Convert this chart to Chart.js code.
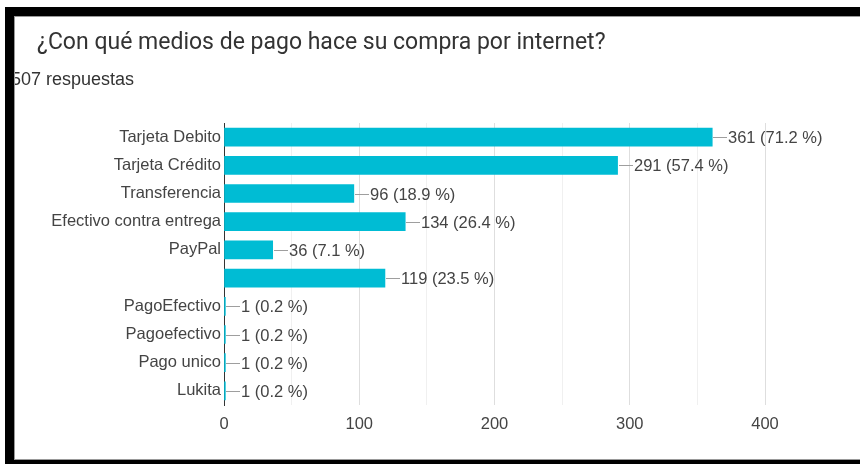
<!DOCTYPE html>
<html>
<head>
<meta charset="utf-8">
<script src="https://cdn.jsdelivr.net/npm/chart.js@4/dist/chart.umd.min.js"></script>
<style>
  html, body { margin: 0; padding: 0; background: #fff; }
  #wrap { position: relative; width: 860px; height: 464px; overflow: hidden; }
  canvas { position: absolute; left: 0; top: 0; }
  .band { position: absolute; background: #000; }
  #title { position: absolute; left: 37px; top: 28px; font: 23px Roboto, sans-serif; color: #333; white-space: nowrap; }
  #sub { position: absolute; left: 11px; top: 69px; font: 18px "Liberation Sans", Arial, sans-serif; color: #333; white-space: nowrap; }
</style>
</head>
<body>
<div id="wrap">
  <canvas id="pagos" width="860" height="464"></canvas>
  <div id="title">¿Con qué medios de pago hace su compra por internet?</div>
  <div id="sub">507 respuestas</div>
  <div class="band" style="left:5px;top:7px;width:855px;height:9px"></div>
  <div class="band" style="left:5px;top:16px;width:855px;height:1px;background:#999"></div>
  <div class="band" style="left:5px;top:7px;width:9px;height:457px"></div>
  <div class="band" style="left:14px;top:17px;width:1px;height:443px;background:#999"></div>
  <div class="band" style="left:5px;top:460px;width:855px;height:4px"></div>
  <div class="band" style="left:14px;top:459px;width:846px;height:1px;background:#999"></div>
</div>
<script>
const medios = ["Tarjeta Debito", "Tarjeta Crédito", "Transferencia", "Efectivo contra entrega", "PayPal", "", "PagoEfectivo", "Pagoefectivo", "Pago unico", "Lukita"];
const respuestas = [361, 291, 96, 134, 36, 119, 1, 1, 1, 1];
const porcentajes = ["71.2", "57.4", "18.9", "26.4", "7.1", "23.5", "0.2", "0.2", "0.2", "0.2"];

const fuente = "'Liberation Sans', Arial, sans-serif";

const etiquetas = {
  id: "etiquetas",
  afterDatasetsDraw(chart) {
    const ctx = chart.ctx;
    const meta = chart.getDatasetMeta(0);
    ctx.save();
    ctx.font = "16.5px " + fuente;
    ctx.textBaseline = "middle";
    ctx.textAlign = "left";
    meta.data.forEach((bar, i) => {
      const x = Math.round(bar.x), y = Math.round(bar.y) + 0.5;
      ctx.strokeStyle = "#9e9e9e";
      ctx.lineWidth = 1;
      ctx.beginPath();
      ctx.moveTo(x + 1, y);
      ctx.lineTo(x + 15, y);
      ctx.stroke();
      ctx.fillStyle = "#444";
      ctx.fillText(respuestas[i] + " (" + porcentajes[i] + " %)", x + 16, y + 1);
    });
    ctx.restore();
  }
};

new Chart(document.getElementById("pagos"), {
  type: "bar",
  data: {
    labels: medios,
    datasets: [{
      data: respuestas,
      backgroundColor: "#00bcd4",
      barThickness: 18
    }]
  },
  options: {
    indexAxis: "y",
    responsive: false,
    animation: false,
    devicePixelRatio: 1,
    layout: { padding: { top: 123, right: 95, left: 0, bottom: 0 } },
    plugins: { legend: { display: false }, tooltip: { enabled: false } },
    scales: {
      x: {
        min: 0,
        max: 400,
        afterFit: s => { s.height = 59; },
        ticks: {
          stepSize: 50,
          padding: 10,
          color: "#444",
          font: { family: fuente, size: 16.5 },
          callback: v => (v % 100 === 0 ? v : "")
        },
        grid: {
          drawTicks: false,
          color: c => (c.tick && c.tick.value % 100 === 0 ? "#dedede" : "#f0f0f0")
        },
        border: { display: false }
      },
      y: {
        afterFit: s => { s.width = 224; },
        ticks: {
          padding: 3,
          autoSkip: false,
          color: "#444",
          font: { family: fuente, size: 16.5 }
        },
        grid: { display: false, drawTicks: false },
        border: { display: true, color: "#333", width: 1 }
      }
    }
  },
  plugins: [etiquetas]
});
</script>
</body>
</html>
